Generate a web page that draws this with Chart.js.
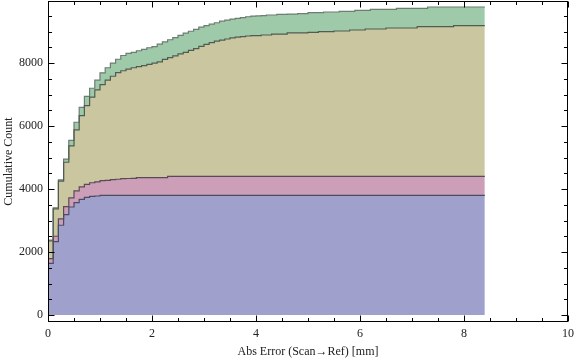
<!DOCTYPE html>
<html>
<head>
<meta charset="utf-8">
<script src="https://cdn.jsdelivr.net/npm/chart.js@4/dist/chart.umd.min.js"></script>
<style>
  html, body { margin: 0; padding: 0; background: #fff; }
  #wrap { width: 576px; height: 362px; }
</style>
</head>
<body>
<div id="wrap"><canvas id="myChart" width="576" height="362"></canvas></div>
<script>
// bin edges (mm), bins are 0.1 wide, last edge closes the final bin
const binEdges = [0.0, 0.1, 0.2, 0.3, 0.4, 0.5, 0.6, 0.7, 0.8, 0.9,
  1.0, 1.1, 1.2, 1.3, 1.4, 1.5, 1.6, 1.7, 1.8, 1.9,
  2.0, 2.1, 2.2, 2.3, 2.4, 2.5, 2.6, 2.7, 2.8, 2.9,
  3.0, 3.1, 3.2, 3.3, 3.4, 3.5, 3.6, 3.7, 3.8, 3.9,
  4.0, 4.1, 4.2, 4.3, 4.4, 4.5, 4.6, 4.7, 4.8, 4.9,
  5.0, 5.1, 5.2, 5.3, 5.4, 5.5, 5.6, 5.7, 5.8, 5.9,
  6.0, 6.1, 6.2, 6.3, 6.4, 6.5, 6.6, 6.7, 6.8, 6.9,
  7.0, 7.1, 7.2, 7.3, 7.4, 7.5, 7.6, 7.7, 7.8, 7.9,
  8.0, 8.1, 8.2, 8.3, 8.4];

// cumulative counts, top edge of each stacked layer
const blueTop = [850, 1640, 2330, 2850, 3190, 3430, 3570, 3670, 3735, 3765,
  3778, 3800, 3800, 3800, 3800, 3800, 3800, 3800, 3800, 3800,
  3800, 3800, 3800, 3800, 3800, 3800, 3800, 3800, 3800, 3800,
  3800, 3800, 3800, 3800, 3800, 3800, 3800, 3800, 3800, 3800,
  3800, 3800, 3800, 3800, 3800, 3800, 3800, 3800, 3800, 3800,
  3800, 3800, 3800, 3800, 3800, 3800, 3800, 3800, 3800, 3800,
  3800, 3800, 3800, 3800, 3800, 3800, 3800, 3800, 3800, 3800,
  3800, 3800, 3800, 3800, 3800, 3800, 3800, 3800, 3800, 3800,
  3800, 3800, 3800, 3800];

const pinkTop = [900, 1790, 2500, 3050, 3440, 3720, 3940, 4070, 4150, 4200,
  4230, 4265, 4275, 4300, 4310, 4330, 4335, 4340, 4365, 4365,
  4365, 4365, 4365, 4365, 4400, 4400, 4400, 4400, 4400, 4400,
  4400, 4400, 4400, 4400, 4400, 4400, 4400, 4400, 4400, 4400,
  4400, 4400, 4400, 4400, 4400, 4400, 4400, 4400, 4400, 4400,
  4400, 4400, 4400, 4400, 4400, 4400, 4400, 4400, 4400, 4400,
  4400, 4400, 4400, 4400, 4400, 4400, 4400, 4400, 4400, 4400,
  4400, 4400, 4400, 4400, 4400, 4400, 4400, 4400, 4400, 4400,
  4400, 4400, 4400, 4400];

const oliveTop = [1200, 2350, 3370, 4250, 4850, 5370, 5880, 6330, 6650, 6920,
  7145, 7315, 7460, 7580, 7695, 7755, 7805, 7850, 7885, 7915,
  7960, 7995, 8040, 8115, 8170, 8225, 8290, 8340, 8400, 8460,
  8530, 8590, 8650, 8695, 8730, 8763, 8800, 8820, 8840, 8858,
  8870, 8870, 8890, 8890, 8920, 8920, 8920, 8955, 8955, 8955,
  8955, 8975, 8975, 8995, 8995, 8995, 9017, 9017, 9017, 9049,
  9049, 9049, 9081, 9081, 9081, 9081, 9112, 9112, 9112, 9112,
  9112, 9112, 9154, 9154, 9154, 9154, 9154, 9154, 9154, 9186,
  9186, 9186, 9186, 9186];

const greenTop = [1230, 2380, 3405, 4290, 4950, 5545, 6120, 6595, 6940, 7200,
  7455, 7690, 7850, 8000, 8120, 8240, 8305, 8340, 8390, 8435,
  8485, 8520, 8600, 8670, 8740, 8805, 8880, 8950, 9010, 9070,
  9140, 9190, 9235, 9280, 9330, 9365, 9395, 9420, 9440, 9470,
  9490, 9495, 9505, 9525, 9525, 9545, 9545, 9555, 9555, 9567,
  9567, 9600, 9600, 9600, 9620, 9620, 9620, 9640, 9640, 9640,
  9670, 9670, 9670, 9705, 9705, 9705, 9705, 9705, 9737, 9737,
  9737, 9737, 9737, 9737, 9780, 9780, 9780, 9780, 9780, 9780,
  9780, 9780, 9780, 9780];

const xTicks = [0, 2, 4, 6, 8, 10];
const yTicks = [0, 2000, 4000, 6000, 8000];

const serif = "'Liberation Serif', 'DejaVu Serif', serif";

function toPoints(vals) {
  return binEdges.map((x, i) => ({ x: x, y: vals[Math.min(i, vals.length - 1)] }));
}

function noPad(s) {
  s.paddingTop = 0;
  s.paddingBottom = 0;
  s.paddingLeft = 0;
  s.paddingRight = 0;
}

// frame on all four sides with inward ticks, Mathematica style
const framePlugin = {
  id: "frame",
  afterDraw(chart) {
    const c = chart.ctx;
    const a = chart.chartArea;
    const xs = chart.scales.x;
    const ys = chart.scales.y;
    const L = Math.round(a.left) + 0.5, R = Math.round(a.right) - 0.5;
    const T = Math.round(a.top) + 0.5, B = Math.round(a.bottom) - 0.5;
    c.save();
    c.strokeStyle = "#000";
    c.lineWidth = 1;
    c.strokeRect(L, T, R - L, B - T);
    c.beginPath();
    for (let v = 0; v <= 10.001; v += 0.5) {
      const px = Math.round(xs.getPixelForValue(v)) + 0.5;
      const len = Math.abs(v % 2) < 0.01 ? 6 : 3.5;
      c.moveTo(px, B); c.lineTo(px, B - len);
      c.moveTo(px, T); c.lineTo(px, T + len);
    }
    for (let v = 0; v <= 9500; v += 500) {
      const py = Math.round(ys.getPixelForValue(v)) + 0.5;
      const len = v % 2000 === 0 ? 6 : 3.5;
      c.moveTo(L, py); c.lineTo(L + len, py);
      c.moveTo(R, py); c.lineTo(R - len, py);
    }
    c.stroke();
    c.restore();
  },
};

const ctx = document.getElementById("myChart").getContext("2d");

const myChart = new Chart(ctx, {
  type: "line",
  data: {
    datasets: [
      {
        label: "blue",
        data: toPoints(blueTop),
        backgroundColor: "rgb(160,160,204)",
        borderColor: "#4c4c60",
        fill: "origin",
      },
      {
        label: "pink",
        data: toPoints(pinkTop),
        backgroundColor: "rgb(205,158,184)",
        borderColor: "#5a4a56",
        fill: "-1",
      },
      {
        label: "olive",
        data: toPoints(oliveTop),
        backgroundColor: "rgb(202,198,160)",
        borderColor: "#4e5c51",
        fill: "-1",
      },
      {
        label: "green",
        data: toPoints(greenTop),
        backgroundColor: "rgb(158,202,170)",
        borderColor: "#6e7c71",
        fill: "-1",
      },
    ].map((d) => Object.assign(d, {
      stepped: "after",
      borderWidth: 1.2,
      pointRadius: 0,
      tension: 0,
    })),
  },
  options: {
    responsive: false,
    animation: false,
    layout: { padding: { top: 1, right: 8, left: 0, bottom: 0 } },
    plugins: {
      legend: { display: false },
      tooltip: { enabled: false },
      filler: { drawTime: "beforeDatasetsDraw" },
    },
    scales: {
      x: {
        type: "linear",
        min: 0,
        max: 10,
        afterBuildTicks: (s) => { s.ticks = xTicks.map((v) => ({ value: v })); },
        afterFit: (s) => { s.height = 40; noPad(s); },
        grid: { display: false, drawTicks: false },
        border: { display: false },
        ticks: { color: "#222", font: { family: serif, size: 12 }, padding: 5, maxRotation: 0 },
        title: {
          display: true,
          text: "Abs Error (Scan\u2192Ref) [mm]",
          color: "#222",
          font: { family: serif, size: 12 },
          padding: { top: 0, bottom: 3 },
        },
      },
      y: {
        type: "linear",
        min: -222,
        max: 9970,
        afterBuildTicks: (s) => { s.ticks = yTicks.map((v) => ({ value: v })); },
        afterFit: (s) => { s.width = 48; noPad(s); },
        grid: { display: false, drawTicks: false },
        border: { display: false },
        ticks: { color: "#222", font: { family: serif, size: 12 }, padding: 5, callback: (v) => String(v) },
        title: {
          display: true,
          text: "Cumulative Count",
          color: "#222",
          font: { family: serif, size: 12 },
          padding: { top: 2, bottom: 0 },
        },
      },
    },
  },
  plugins: [framePlugin],
});
</script>
</body>
</html>
